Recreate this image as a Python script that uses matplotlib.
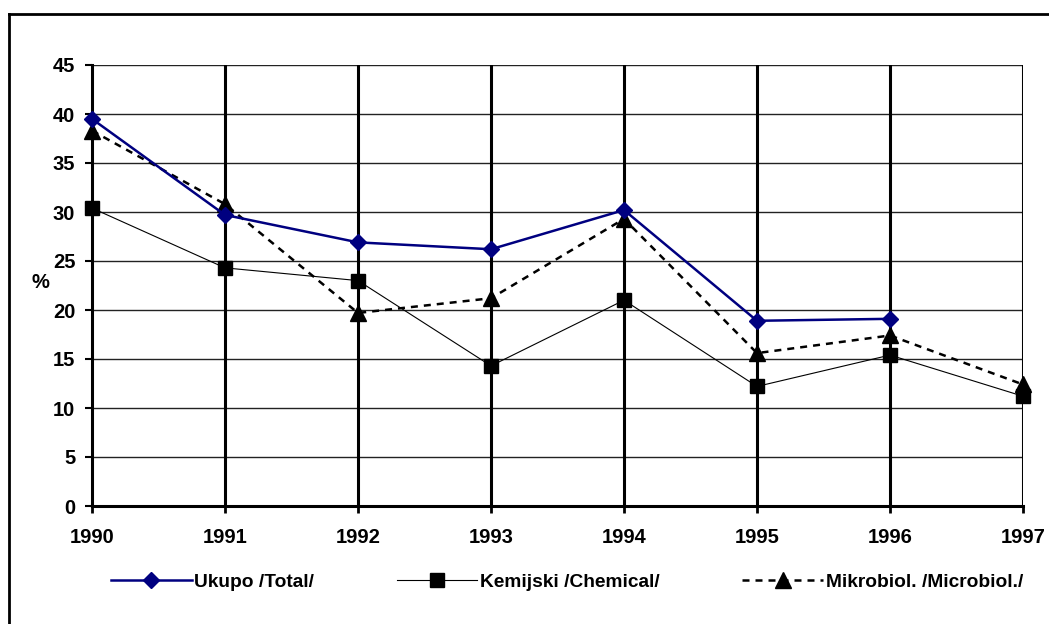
import numpy as np
import matplotlib.pyplot as plt
from matplotlib.lines import Line2D

plt.rcParams['font.family'] = ['Liberation Sans', 'DejaVu Sans']

# podaci
godine = [1990, 1991, 1992, 1993, 1994, 1995, 1996, 1997]
ukupno = [39.5, 29.7, 26.9, 26.2, 30.2, 18.9, 19.1, np.nan]
kemijski = [30.4, 24.3, 23.0, 14.3, 21.0, 12.2, 15.4, 11.2]
mikrobiol = [38.3, 30.8, 19.7, 21.2, 29.3, 15.6, 17.4, 12.4]

W, H = 1049, 624
fig = plt.figure(figsize=(W / 100, H / 100), dpi=100)
ax = fig.add_axes([92 / W, 1 - 506 / H, (1023 - 92) / W, (506 - 65) / H])

x = np.arange(len(godine))

ax.plot(x, ukupno, color='#000080', lw=1.8, marker='D', ms=8, label='Ukupo /Total/',
        zorder=4, clip_on=False)
ax.plot(x, kemijski, color='black', lw=0.8, marker='s', ms=10.5, label='Kemijski /Chemical/',
        zorder=3, clip_on=False)
ax.plot(x, mikrobiol, color='black', lw=1.8, ls=(0, (2.8, 2.4)), marker='^', ms=11,
        label='Mikrobiol. /Microbiol./', zorder=3, clip_on=False)

ax.set_xlim(0, len(godine) - 1)
ax.set_ylim(0, 45)
ax.set_xticks(x)
ax.set_xticklabels([str(g) for g in godine], fontsize=14.5, fontweight='bold')
ax.set_yticks(np.arange(0, 46, 5))
ax.set_yticklabels([str(v) for v in range(0, 46, 5)], fontsize=14.5, fontweight='bold')
ax.tick_params(axis='x', direction='out', length=5, width=2, pad=11)
ax.tick_params(axis='y', direction='out', length=5, width=1.5, pad=7)

# mreza
for yv in range(5, 46, 5):
    ax.axhline(yv, color='#222222', lw=1, zorder=1)
for xv in x[1:]:
    ax.axvline(xv, color='black', lw=2.2, zorder=1)

for s in ['top', 'right']:
    ax.spines[s].set_visible(False)
ax.spines['left'].set_linewidth(2.2)
ax.spines['bottom'].set_linewidth(2.2)

fig.text(40 / W, 1 - 283 / H, '%', fontsize=14.5, fontweight='bold', ha='center', va='center')

leg = fig.legend(loc='center left', bbox_to_anchor=(111 / W, 1 - 582 / H), ncol=3, frameon=False,
                 handlelength=4.2, handletextpad=0.15, columnspacing=4.3,
                 borderpad=0, borderaxespad=0,
                 prop={'size': 13.8, 'weight': 'bold'})

# okvir
fig.add_artist(Line2D([9 / W, 9 / W], [0, 1 - 14 / H], color='black', lw=2, transform=fig.transFigure))
fig.add_artist(Line2D([9 / W, 1], [1 - 14 / H, 1 - 14 / H], color='black', lw=2, transform=fig.transFigure))

fig.savefig('out.png', dpi=100)
